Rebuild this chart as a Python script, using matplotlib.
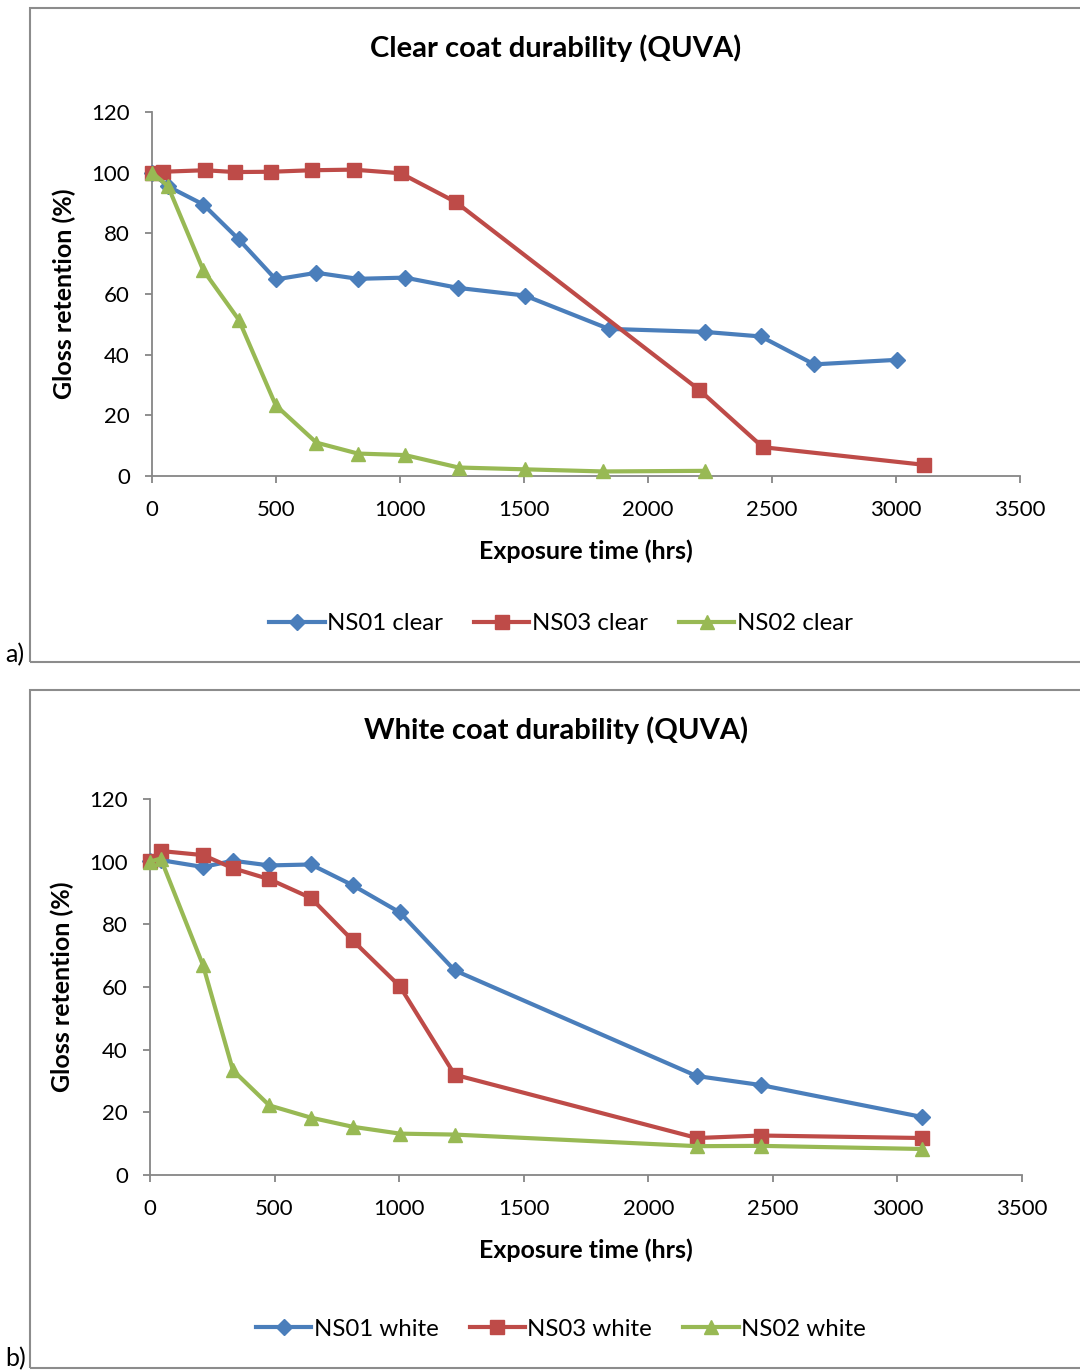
import matplotlib.pyplot as plt
from matplotlib.patches import Rectangle
from matplotlib.lines import Line2D

plt.rcParams['font.family'] = ['Lato', 'DejaVu Sans']

# Panel a: clear coat
CLEAR_NS01_X = [0, 64, 207, 350, 499, 663, 830, 1020, 1235, 1503, 1842, 2230, 2455, 2670, 3005]
CLEAR_NS01_Y = [100, 95.5, 89.5, 78, 64.8, 67, 65, 65.4, 62, 59.5, 48.5, 47.5, 46, 36.8, 38.3]
CLEAR_NS03_X = [0, 44, 213, 335, 480, 645, 813, 1003, 1225, 2205, 2463, 3112]
CLEAR_NS03_Y = [99.8, 100.3, 100.8, 100.2, 100.3, 100.8, 101, 99.8, 90.3, 28.5, 9.5, 3.7]
CLEAR_NS02_X = [0, 64, 207, 350, 499, 663, 830, 1020, 1236, 1503, 1819, 2229]
CLEAR_NS02_Y = [100, 95.6, 67.8, 51.5, 23.3, 11, 7.4, 6.9, 2.8, 2.2, 1.5, 1.7]

# Panel b: white coat
WHITE_NS01_X = [0, 43, 213, 333, 479, 646, 813, 1003, 1223, 2194, 2452, 3100]
WHITE_NS01_Y = [100.3, 100.5, 98.3, 100.3, 98.8, 99.1, 92.5, 83.8, 65.3, 31.6, 28.7, 18.5]
WHITE_NS03_X = [0, 43, 213, 333, 479, 646, 813, 1003, 1223, 2196, 2452, 3100]
WHITE_NS03_Y = [100.2, 103.4, 102.1, 97.9, 94.4, 88.4, 74.9, 60.2, 32, 11.8, 12.6, 11.8]
WHITE_NS02_X = [0, 43, 213, 333, 479, 646, 813, 1003, 1223, 2196, 2452, 3100]
WHITE_NS02_Y = [100, 101, 66.9, 33.4, 22.2, 18.3, 15.4, 13.2, 12.9, 9.2, 9.3, 8.3]

X_TICKS = [0, 500, 1000, 1500, 2000, 2500, 3000, 3500]
Y_TICKS = [0, 20, 40, 60, 80, 100, 120]

BLUE = '#4A7EBB'
RED = '#BE4B48'
GREEN = '#98B954'
AXIS_GREY = '#868686'
FRAME_GREY = '#8C8C8C'

W, H = 1080, 1370


def fx(px):
    return px / W


def fy(py):
    return 1 - py / H


def draw_panel(fig, box, frame, title, title_y, xlabel_y, ylabel_x, legend_y, series, letter, letter_y):
    left, top, right, bottom = box
    ax = fig.add_axes([fx(left), fy(bottom), fx(right - left), (bottom - top) / H])

    for (x, y, color, marker, ms, label) in series:
        ax.plot(x, y, color=color, lw=3, marker=marker, ms=ms, mfc=color, mec=color,
                label=label, solid_joinstyle='round', clip_on=False, zorder=3)

    ax.set_xlim(0, 3500)
    ax.set_ylim(0, 120)
    ax.set_xticks(X_TICKS)
    ax.set_yticks(Y_TICKS)
    for s in ['top', 'right']:
        ax.spines[s].set_visible(False)
    for s in ['left', 'bottom']:
        ax.spines[s].set_color(AXIS_GREY)
        ax.spines[s].set_linewidth(1.3)
    ax.tick_params(axis='both', direction='out', length=5, width=1.3, color=AXIS_GREY,
                   labelsize=16, labelcolor='black')
    ax.tick_params(axis='y', pad=11)
    ax.tick_params(axis='x', pad=12)

    # frame round the whole chart
    fl, ft, fb = frame
    fig.patches.append(Rectangle((fx(fl), fy(fb)), 1.2, (fb - ft) / H, transform=fig.transFigure,
                                 fill=False, edgecolor=FRAME_GREY, lw=1.5))

    fig.text(fx(556), fy(title_y), title, ha='center', va='center', fontsize=21, fontweight='bold')
    fig.text(fx(586), fy(xlabel_y), 'Exposure time (hrs)', ha='center', va='center',
             fontsize=18, fontweight='bold')
    fig.text(fx(ylabel_x), (fy(top) + fy(bottom)) / 2, 'Gloss retention (%)', ha='center',
             va='center', rotation=90, fontsize=18, fontweight='bold')

    handles = [Line2D([], [], color=c, lw=3, marker=m, ms=ms) for (_, _, c, m, ms, _) in series]
    labels = [s[5] for s in series]
    fig.legend(handles, labels, loc='center', bbox_to_anchor=(fx(561), fy(legend_y)), ncol=3,
               frameon=False, fontsize=17.3, handlelength=2.3, handletextpad=0.1,
               columnspacing=1.3)

    fig.text(fx(5), fy(letter_y), letter, ha='left', va='center', fontsize=18)


fig = plt.figure(figsize=(W / 100, H / 100), dpi=100)

draw_panel(fig, (152, 112, 1020, 476), (30, 8, 662), 'Clear coat durability (QUVA)',
           48, 551, 64, 624,
           [(CLEAR_NS01_X, CLEAR_NS01_Y, BLUE, 'D', 8.5, 'NS01 clear'),
            (CLEAR_NS03_X, CLEAR_NS03_Y, RED, 's', 10, 'NS03 clear'),
            (CLEAR_NS02_X, CLEAR_NS02_Y, GREEN, '^', 10.5, 'NS02 clear')],
           'a)', 655)

draw_panel(fig, (150, 799, 1022, 1175), (30, 690, 1368), 'White coat durability (QUVA)',
           730, 1250, 62, 1329,
           [(WHITE_NS01_X, WHITE_NS01_Y, BLUE, 'D', 8.5, 'NS01 white'),
            (WHITE_NS03_X, WHITE_NS03_Y, RED, 's', 10, 'NS03 white'),
            (WHITE_NS02_X, WHITE_NS02_Y, GREEN, '^', 10.5, 'NS02 white')],
           'b)', 1359)

fig.savefig('out.png', dpi=100)
